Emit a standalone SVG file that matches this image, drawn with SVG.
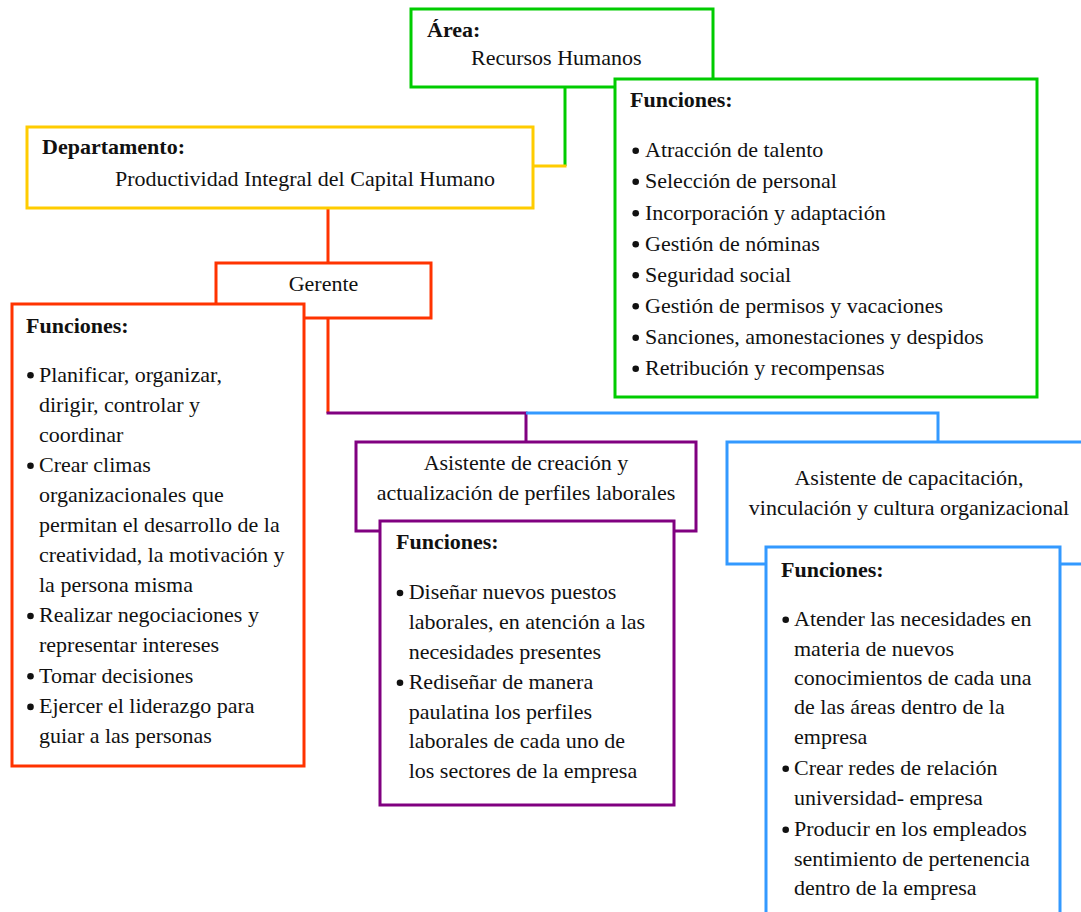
<svg xmlns="http://www.w3.org/2000/svg" width="1081" height="912" viewBox="0 0 1081 912">
  <style>
    .box { fill: #ffffff; stroke-width: 3; }
    .green { stroke: #00cc00; }
    .yellow { stroke: #ffcc00; }
    .red { stroke: #ff3300; }
    .purple { stroke: #800080; }
    .blue { stroke: #3399ff; }
    .wire { fill: none; stroke-width: 3; }
    text { font-family: "Liberation Serif", "Times New Roman", serif; font-size: 22px; fill: #111111; }
    .b { font-weight: bold; }
    .c { text-anchor: middle; }
  </style>
  <defs>
    <!-- list bullet, placed at the baseline of its line -->
    <circle id="bullet" cx="0" cy="-6.3" r="3.3" fill="#111111"/>
  </defs>

  <!-- connectors -->
  <g id="connectors">
    <path class="wire green" d="M565 87 V166"/>
    <path class="wire yellow" d="M533 166 H566.5"/>
    <path class="wire red" d="M328 208 V263 M328 318 V413"/>
    <path class="wire purple" d="M326.5 413 H526 V442"/>
    <path class="wire blue" d="M526 413 H938 V442"/>
  </g>

  <!-- area -->
  <g id="area">
    <rect class="box green" x="411" y="9" width="302" height="78"/>
    <text class="b" x="427" y="37">Área:</text>
    <text x="471" y="65">Recursos Humanos</text>
  </g>

  <!-- area functions -->
  <g id="area-funciones">
    <rect class="box green" x="615" y="79" width="422" height="318"/>
    <text class="b" x="630" y="107">Funciones:</text>
    <use href="#bullet" x="635.7" y="157"/><text x="645" y="157">Atracción de talento</text>
    <use href="#bullet" x="635.7" y="188"/><text x="645" y="188">Selección de personal</text>
    <use href="#bullet" x="635.7" y="219.5"/><text x="645" y="219.5">Incorporación y adaptación</text>
    <use href="#bullet" x="635.7" y="250.5"/><text x="645" y="250.5">Gestión de nóminas</text>
    <use href="#bullet" x="635.7" y="281.5"/><text x="645" y="281.5">Seguridad social</text>
    <use href="#bullet" x="635.7" y="312.5"/><text x="645" y="312.5">Gestión de permisos y vacaciones</text>
    <use href="#bullet" x="635.7" y="344"/><text x="645" y="344">Sanciones, amonestaciones y despidos</text>
    <use href="#bullet" x="635.7" y="375"/><text x="645" y="375">Retribución y recompensas</text>
  </g>

  <!-- department -->
  <g id="departamento">
    <rect class="box yellow" x="27" y="127" width="506" height="81"/>
    <text class="b" x="42" y="154">Departamento:</text>
    <text x="115" y="186">Productividad Integral del Capital Humano</text>
  </g>

  <!-- manager -->
  <g id="gerente">
    <rect class="box red" x="216" y="263" width="215" height="55"/>
    <text class="c" x="323.5" y="291">Gerente</text>
  </g>

  <!-- manager functions -->
  <g id="gerente-funciones">
    <rect class="box red" x="12" y="304" width="292" height="462"/>
    <text class="b" x="26" y="333">Funciones:</text>
    <use href="#bullet" x="30.5" y="381.5"/><text x="39" y="381.5">Planificar, organizar,</text>
    <text x="39" y="411.7">dirigir, controlar y</text>
    <text x="39" y="441.8">coordinar</text>
    <use href="#bullet" x="30.5" y="472"/><text x="39" y="472">Crear climas</text>
    <text x="39" y="502">organizacionales que</text>
    <text x="39" y="531.8">permitan el desarrollo de la</text>
    <text x="39" y="561.8">creatividad, la motivación y</text>
    <text x="39" y="591.8">la persona misma</text>
    <use href="#bullet" x="30.5" y="622.3"/><text x="39" y="622.3">Realizar negociaciones y</text>
    <text x="39" y="652">representar intereses</text>
    <use href="#bullet" x="30.5" y="682.5"/><text x="39" y="682.5">Tomar decisiones</text>
    <use href="#bullet" x="30.5" y="713.2"/><text x="39" y="713.2">Ejercer el liderazgo para</text>
    <text x="39" y="743.3">guiar a las personas</text>
  </g>

  <!-- profiles assistant -->
  <g id="asistente-perfiles">
    <rect class="box purple" x="356" y="442" width="340" height="89"/>
    <text class="c" x="526" y="470">Asistente de creación y</text>
    <text class="c" x="526" y="500">actualización de perfiles laborales</text>
  </g>

  <!-- profiles assistant functions -->
  <g id="asistente-perfiles-funciones">
    <rect class="box purple" x="380" y="521" width="294" height="284"/>
    <text class="b" x="396" y="549">Funciones:</text>
    <use href="#bullet" x="400" y="599.3"/><text x="408.7" y="599.3">Diseñar nuevos puestos</text>
    <text x="408.7" y="629.2">laborales, en atención a las</text>
    <text x="408.7" y="658.6">necesidades presentes</text>
    <use href="#bullet" x="400" y="689"/><text x="408.7" y="689">Rediseñar de manera</text>
    <text x="408.7" y="718.8">paulatina los perfiles</text>
    <text x="408.7" y="748.3">laborales de cada uno de</text>
    <text x="408.7" y="777.7">los sectores de la empresa</text>
  </g>

  <!-- training assistant -->
  <g id="asistente-capacitacion">
    <rect class="box blue" x="727" y="442" width="370" height="122"/>
    <text class="c" x="909" y="485">Asistente de capacitación,</text>
    <text class="c" x="909" y="515">vinculación y cultura organizacional</text>
  </g>

  <!-- training assistant functions -->
  <g id="asistente-capacitacion-funciones">
    <rect class="box blue" x="766" y="547" width="294" height="380"/>
    <text class="b" x="781" y="577">Funciones:</text>
    <use href="#bullet" x="785.7" y="626"/><text x="794" y="626">Atender las necesidades en</text>
    <text x="794" y="655.5">materia de nuevos</text>
    <text x="794" y="685">conocimientos de cada una</text>
    <text x="794" y="714.3">de las áreas dentro de la</text>
    <text x="794" y="743.5">empresa</text>
    <use href="#bullet" x="785.7" y="775"/><text x="794" y="775">Crear redes de relación</text>
    <text x="794" y="805">universidad- empresa</text>
    <use href="#bullet" x="785.7" y="836"/><text x="794" y="836">Producir en los empleados</text>
    <text x="794" y="865.7">sentimiento de pertenencia</text>
    <text x="794" y="895">dentro de la empresa</text>
  </g>
</svg>
